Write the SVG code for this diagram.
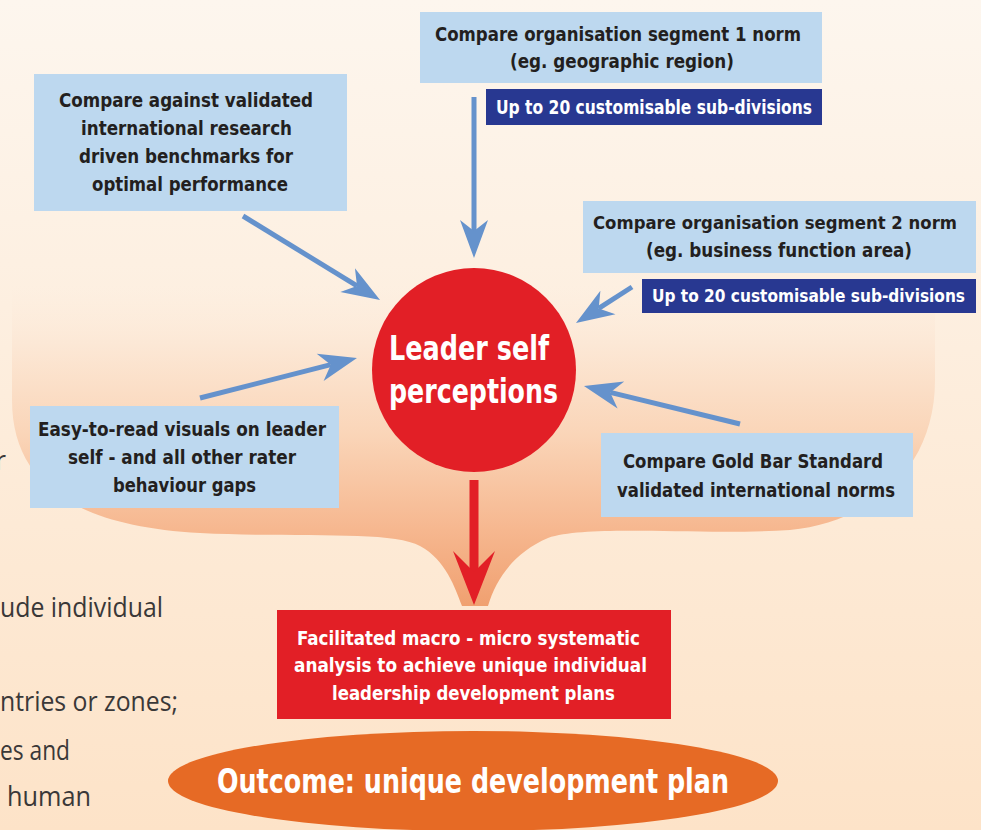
<svg xmlns="http://www.w3.org/2000/svg" width="981" height="830" viewBox="0 0 981 830">
<defs>
<linearGradient id="bg" x1="0" y1="0" x2="0" y2="830" gradientUnits="userSpaceOnUse">
<stop offset="0" stop-color="#fdf6ee"/>
<stop offset="1" stop-color="#fde3c8"/>
</linearGradient>
<linearGradient id="blob" x1="0" y1="100" x2="0" y2="606" gradientUnits="userSpaceOnUse">
<stop offset="0.33" stop-color="#fdf1e4" stop-opacity="0"/>
<stop offset="0.48" stop-color="#fce8d6"/>
<stop offset="0.66" stop-color="#fad5b8"/>
<stop offset="0.85" stop-color="#f6b78f"/>
<stop offset="1" stop-color="#f0a070"/>
</linearGradient>
<marker id="bh" markerUnits="userSpaceOnUse" viewBox="-12 -15 40 30" refX="0" refY="0" markerWidth="40" markerHeight="30" orient="auto">
<path d="M27,0 L-11,-14 L0,0 L-11,14 Z" fill="#6592cc"/>
</marker>
<style>
.box{fill:#bdd8ef}
.dbox{fill:#283891}
.t{font-family:"Liberation Sans Narrow","DejaVu Sans Condensed","Liberation Sans",sans-serif;font-weight:bold;font-size:20px;fill:#231f20}
.s{font-size:18px}
.w{fill:#ffffff}
.g{font-family:"Liberation Sans Narrow","Open Sans","Liberation Sans",sans-serif;font-weight:normal;font-size:27px;fill:#3a3838}
.arr{stroke:#6592cc;stroke-width:5;fill:none;marker-end:url(#bh)}
</style>
</defs>
<rect width="981" height="830" fill="url(#bg)"/>
<path id="backdrop" d="M12,160 Q12,100 72,100 L875,100 Q935,100 935,160 L935,380 C935,470 870,522 790,530 C700,536 590,524 548,538 C515,552 496,578 488,606 L462,606 C455,588 446,560 420,546 C392,530 300,538 200,533 C70,526 12,480 12,400 Z" fill="url(#blob)"/>

<g id="side-text" class="g">
<text x="-5" y="470">r</text>
<text x="0" y="617" textLength="163" lengthAdjust="spacingAndGlyphs">ude individual</text>
<text x="0" y="711" textLength="178" lengthAdjust="spacingAndGlyphs">ntries or zones;</text>
<text x="0" y="760" textLength="70" lengthAdjust="spacingAndGlyphs">es and</text>
<text x="7" y="806" textLength="84" lengthAdjust="spacingAndGlyphs">human</text>
</g>

<g id="connectors">
<line class="arr" x1="474" y1="97" x2="474" y2="231"/>
<line class="arr" x1="243" y1="216" x2="357" y2="285.9"/>
<line class="arr" x1="632" y1="287" x2="598.7" y2="308.4"/>
<line class="arr" x1="200" y1="398" x2="330.8" y2="364.7"/>
<line class="arr" x1="740" y1="424" x2="610.2" y2="392.4"/>
<rect x="469.5" y="480" width="9" height="93" fill="#e21f26"/>
<path d="M474,605 L453,551 L474,572 L495,551 Z" fill="#e21f26"/>
</g>

<g id="seg1">
<rect class="box" x="420" y="12" width="402" height="71"/>
<text class="t" x="435" y="41" textLength="366" lengthAdjust="spacingAndGlyphs">Compare organisation segment 1 norm</text>
<text class="t" x="510" y="68" textLength="224" lengthAdjust="spacingAndGlyphs">(eg. geographic region)</text>
</g>
<g id="seg1-sub">
<rect class="dbox" x="486" y="89" width="336" height="36"/>
<text class="t w" x="496" y="114" textLength="316" lengthAdjust="spacingAndGlyphs">Up to 20 customisable sub-divisions</text>
</g>

<g id="benchmarks">
<rect class="box" x="34" y="74" width="313" height="137"/>
<text class="t" x="59" y="107" textLength="254" lengthAdjust="spacingAndGlyphs">Compare against validated</text>
<text class="t" x="81" y="135" textLength="211" lengthAdjust="spacingAndGlyphs">international research</text>
<text class="t" x="79" y="163" textLength="214" lengthAdjust="spacingAndGlyphs">driven benchmarks for</text>
<text class="t" x="92" y="191" textLength="196" lengthAdjust="spacingAndGlyphs">optimal performance</text>
</g>

<g id="seg2">
<rect class="box" x="583" y="201" width="393" height="72"/>
<text class="t s" x="593" y="229" textLength="364" lengthAdjust="spacingAndGlyphs">Compare organisation segment 2 norm</text>
<text class="t" x="646" y="257" textLength="266" lengthAdjust="spacingAndGlyphs">(eg. business function area)</text>
</g>
<g id="seg2-sub">
<rect class="dbox" x="642" y="279" width="334" height="34"/>
<text class="t w s" x="652" y="302" textLength="313" lengthAdjust="spacingAndGlyphs">Up to 20 customisable sub-divisions</text>
</g>

<g id="visuals">
<rect class="box" x="30" y="406" width="309" height="102"/>
<text class="t" x="38" y="436" textLength="288" lengthAdjust="spacingAndGlyphs">Easy-to-read visuals on leader</text>
<text class="t" x="68" y="464" textLength="228" lengthAdjust="spacingAndGlyphs">self - and all other rater</text>
<text class="t" x="113" y="492" textLength="143" lengthAdjust="spacingAndGlyphs">behaviour gaps</text>
</g>

<g id="goldbar">
<rect class="box" x="601" y="433" width="312" height="84"/>
<text class="t" x="623" y="468" textLength="260" lengthAdjust="spacingAndGlyphs">Compare Gold Bar Standard</text>
<text class="t" x="617" y="497" textLength="278" lengthAdjust="spacingAndGlyphs">validated international norms</text>
</g>

<g id="leader">
<circle cx="474" cy="370" r="102" fill="#e21f26"/>
<text class="t w" x="389" y="360" style="font-size:34px" textLength="160" lengthAdjust="spacingAndGlyphs">Leader self</text>
<text class="t w" x="389" y="403" style="font-size:34px" textLength="169" lengthAdjust="spacingAndGlyphs">perceptions</text>
</g>

<g id="analysis">
<rect x="277" y="610" width="394" height="109" fill="#e21f26"/>
<text class="t w" x="297" y="645" textLength="343" lengthAdjust="spacingAndGlyphs">Facilitated macro - micro systematic</text>
<text class="t w" x="294" y="672" textLength="353" lengthAdjust="spacingAndGlyphs">analysis to achieve unique individual</text>
<text class="t w" x="332" y="700" textLength="283" lengthAdjust="spacingAndGlyphs">leadership development plans</text>
</g>

<g id="outcome">
<ellipse cx="473" cy="781" rx="305" ry="50" fill="#e66a25"/>
<text class="t w" x="217" y="793" style="font-size:33px" textLength="512" lengthAdjust="spacingAndGlyphs">Outcome: unique development plan</text>
</g>
</svg>
